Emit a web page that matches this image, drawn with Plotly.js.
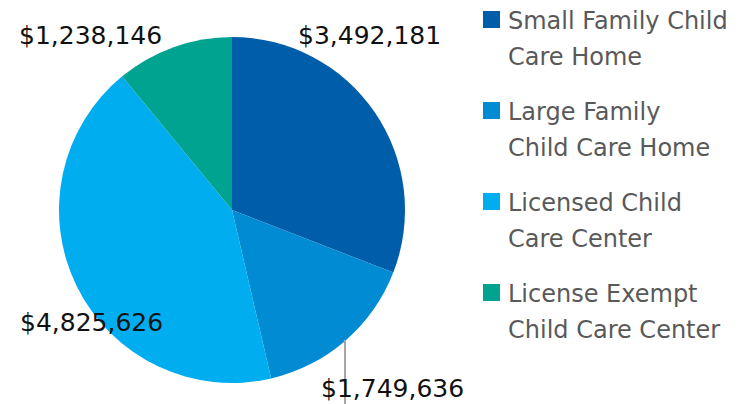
<!DOCTYPE html>
<html>
<head>
<meta charset="utf-8">
<script src="https://cdn.plot.ly/plotly-3.0.1.min.js"></script>
<style>
  html, body { margin: 0; padding: 0; background: #fff; }
  #chart { width: 745px; height: 404px; }
</style>
</head>
<body>
<div id="chart"></div>
<script>
// slices, clockwise from 12 o'clock
const categories = [
    'Small Family Child<br>Care Home',
    'Large Family<br>Child Care Home',
    'Licensed Child<br>Care Center',
    'License Exempt<br>Child Care Center'
];
const amounts = [3492181, 1749636, 4825626, 1238146];
const sliceColors = ['#005daa', '#008bd2', '#00aeef', '#00a390'];

const W = 745, H = 404;
const px = x => x / W;
const py = y => 1 - y / H;
const FONT = '"DejaVu Sans", sans-serif';

const fmt = v => '$' + v.toLocaleString('en-US');

// value label spots (pixel centres), one per slice
const labelPos = [[369, 36], [393, 388], [91, 322], [90, 36]];

const annotations = [];
const shapes = [];

amounts.forEach((v, i) => {
    annotations.push({
        text: fmt(v),
        xref: 'paper', yref: 'paper',
        x: px(labelPos[i][0]), y: py(labelPos[i][1]),
        xanchor: 'center', yanchor: 'middle',
        showarrow: false,
        font: { family: FONT, size: 25, color: '#111' }
    });
});

// leader line for the Large Family label
shapes.push({
    type: 'line', xref: 'paper', yref: 'paper',
    x0: px(345), x1: px(345), y0: py(340), y1: py(404),
    line: { color: '#a6a6a6', width: 2 }
});

// hand-made legend
categories.forEach((c, i) => {
    const top = 11 + 91 * i;
    shapes.push({
        type: 'rect', xref: 'paper', yref: 'paper',
        x0: px(483), x1: px(500), y0: py(top), y1: py(top + 17),
        fillcolor: sliceColors[i], line: { width: 0 }
    });
    c.split('<br>').forEach((line, j) => {
        annotations.push({
            text: line,
            xref: 'paper', yref: 'paper',
            x: px(506), y: py(top + 10 + 36 * j),
            xanchor: 'left', yanchor: 'middle',
            showarrow: false,
            font: { family: FONT, size: 24, color: '#595959' }
        });
    });
});

const data = [{
    type: 'pie',
    values: amounts,
    labels: categories,
    sort: false,
    direction: 'clockwise',
    rotation: 0,
    textinfo: 'none',
    hoverinfo: 'label+value',
    marker: { colors: sliceColors, line: { color: '#ffffff', width: 0 } },
    domain: { x: [px(59), px(405)], y: [py(383), py(37)] }
}];

const layout = {
    width: W,
    height: H,
    margin: { t: 0, b: 0, l: 0, r: 0 },
    paper_bgcolor: '#ffffff',
    showlegend: false,
    annotations: annotations,
    shapes: shapes
};

Plotly.newPlot('chart', data, layout, { displayModeBar: false });
</script>
</body>
</html>
